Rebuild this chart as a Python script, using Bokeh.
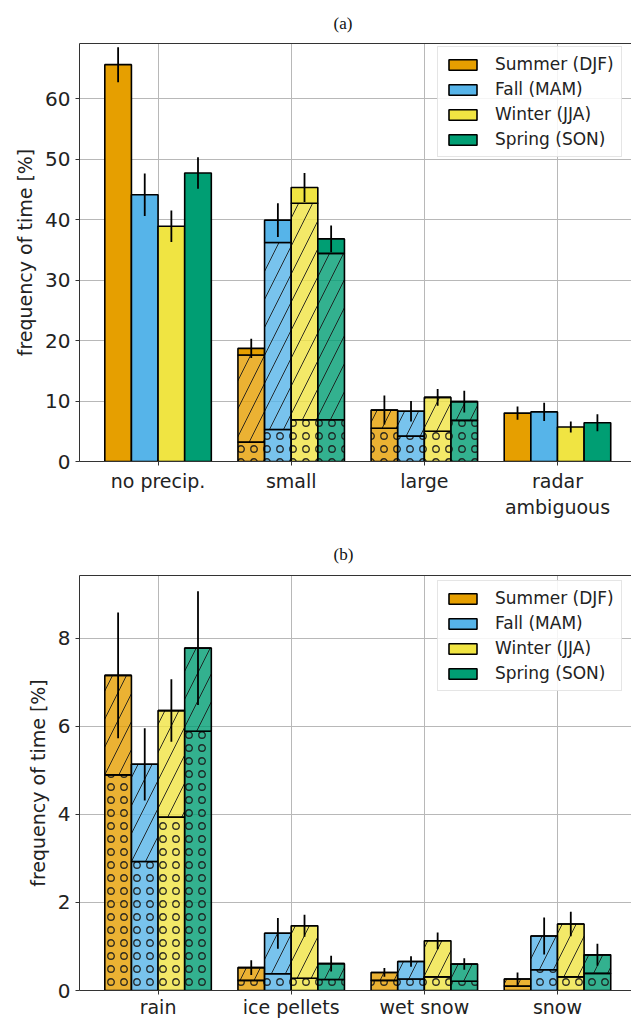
from bokeh.plotting import figure
from bokeh.layouts import column
from bokeh.models import Range1d, FixedTicker, LinearAxis, Legend, LegendItem
from bokeh.embed import file_html
from bokeh.resources import INLINE

seasons = ["Summer (DJF)", "Fall (MAM)", "Winter (JJA)", "Spring (SON)"]
colors = ["#E69F00", "#56B4E9", "#F0E442", "#009E73"]

# ---- panel (a) ----
categories_a = ["no precip.", "small", "large", "radar\nambiguous"]
total_a = {
    "Summer (DJF)": [65.6, 18.7, 8.5, 8.0],
    "Fall (MAM)": [44.1, 39.9, 8.3, 8.2],
    "Winter (JJA)": [38.9, 45.3, 10.6, 5.7],
    "Spring (SON)": [47.7, 36.8, 9.9, 6.4],
}
dotted_a = {
    "Summer (DJF)": [0, 3.2, 5.5, 0],
    "Fall (MAM)": [0, 5.3, 4.2, 0],
    "Winter (JJA)": [0, 6.9, 5.0, 0],
    "Spring (SON)": [0, 6.9, 6.8, 0],
}
hatched_a = {
    "Summer (DJF)": [0, 14.4, 3.0, 0],
    "Fall (MAM)": [0, 30.9, 4.1, 0],
    "Winter (JJA)": [0, 35.8, 5.6, 0],
    "Spring (SON)": [0, 27.5, 3.1, 0],
}
err_a = {
    "Summer (DJF)": [2.9, 1.6, 2.4, 1.1],
    "Fall (MAM)": [3.5, 2.8, 1.7, 1.5],
    "Winter (JJA)": [2.6, 2.4, 1.4, 0.9],
    "Spring (SON)": [2.6, 2.2, 1.8, 1.4],
}
yticks_a = [0, 10, 20, 30, 40, 50, 60]

# ---- panel (b) ----
categories_b = ["rain", "ice pellets", "wet snow", "snow"]
total_b = {
    "Summer (DJF)": [7.16, 0.52, 0.41, 0.26],
    "Fall (MAM)": [5.14, 1.30, 0.66, 1.24],
    "Winter (JJA)": [6.36, 1.47, 1.13, 1.51],
    "Spring (SON)": [7.78, 0.61, 0.60, 0.81],
}
dotted_b = {
    "Summer (DJF)": [4.90, 0.23, 0.23, 0.10],
    "Fall (MAM)": [2.93, 0.38, 0.26, 0.47],
    "Winter (JJA)": [3.94, 0.28, 0.31, 0.31],
    "Spring (SON)": [5.89, 0.25, 0.21, 0.39],
}
hatched_b = {
    "Summer (DJF)": [2.26, 0.29, 0.18, 0.16],
    "Fall (MAM)": [2.21, 0.92, 0.40, 0.77],
    "Winter (JJA)": [2.42, 1.19, 0.82, 1.20],
    "Spring (SON)": [1.89, 0.36, 0.39, 0.42],
}
err_b = {
    "Summer (DJF)": [1.43, 0.17, 0.10, 0.15],
    "Fall (MAM)": [0.82, 0.35, 0.12, 0.42],
    "Winter (JJA)": [0.71, 0.25, 0.19, 0.28],
    "Spring (SON)": [1.29, 0.18, 0.13, 0.25],
}
yticks_b = [0, 2, 4, 6, 8]

FONT = "DejaVu Sans"
BAR_W = 0.2


def make_panel(title, cats, totals, dotted, hatched, errs, ymax, yticks,
               height, border_top, border_bottom, label_standoff, title_standoff):
    p = figure(width=631, height=height,
               x_range=Range1d(-0.59, 3.556), y_range=Range1d(0, ymax),
               output_backend="svg", toolbar_location=None,
               min_border_left=79, min_border_right=0,
               min_border_top=border_top, min_border_bottom=border_bottom)
    p.outline_line_color = None
    p.background_fill_color = "white"
    p.border_fill_color = "white"

    # title
    p.title.text = title
    p.title.align = "left"
    p.title.offset = 254
    p.title.standoff = title_standoff
    p.title.text_font = "Liberation Serif"
    p.title.text_font_size = "17px"
    p.title.text_font_style = "normal"
    p.title.text_color = "#111111"

    # grids
    p.xgrid.ticker = FixedTicker(ticks=list(range(len(cats))))
    p.ygrid.ticker = FixedTicker(ticks=yticks)
    for g in (p.xgrid, p.ygrid):
        g.grid_line_color = "#b8b8b8"
        g.grid_line_width = 1

    # axes
    p.xaxis.ticker = FixedTicker(ticks=list(range(len(cats))))
    p.xaxis.major_label_overrides = {i: c for i, c in enumerate(cats)}
    p.yaxis.ticker = FixedTicker(ticks=yticks)
    for ax in (p.xaxis[0], p.yaxis[0]):
        ax.major_label_text_font = FONT
        ax.major_label_text_font_size = "20px"
        ax.major_label_text_color = "#222222"
        ax.axis_line_color = "#333333"
        ax.major_tick_line_color = "#333333"
        ax.major_tick_in = 0
        ax.major_tick_out = 4
        ax.minor_tick_line_color = None
    p.xaxis.major_label_text_font_size = "19px"
    p.xaxis.major_label_standoff = label_standoff
    p.yaxis.major_label_standoff = 5
    p.yaxis.axis_label = "frequency of time [%]"
    p.yaxis.axis_label_text_font = FONT
    p.yaxis.axis_label_text_font_size = "19px"
    p.yaxis.axis_label_text_font_style = "normal"
    p.yaxis.axis_label_text_color = "#222222"
    p.yaxis.axis_label_standoff = 6

    top_axis = LinearAxis(ticker=FixedTicker(ticks=[]),
                          major_tick_line_color=None,
                          minor_tick_line_color=None,
                          major_label_text_font_size="0px",
                          axis_line_color="#333333")
    p.add_layout(top_axis, "above")

    items = []
    for j, s in enumerate(seasons):
        xs = [i + (j - 1.5) * BAR_W for i in range(len(cats))]
        d = dotted[s]
        h = hatched[s]
        t = totals[s]
        e = errs[s]
        htop = [a + b for a, b in zip(d, h)]

        # dotted (ring hatched) bottom part
        idx = [k for k in range(len(cats)) if d[k] > 0]
        if idx:
            p.vbar(x=[xs[k] for k in idx], bottom=0, top=[d[k] for k in idx],
                   width=BAR_W, fill_color=colors[j], fill_alpha=0.8,
                   line_color="black", line_width=1.6,
                   hatch_pattern="ring", hatch_scale=13, hatch_weight=1.3,
                   hatch_color="#1a1a1a", hatch_alpha=0.9)
        # diagonal hatched part
        idx = [k for k in range(len(cats)) if h[k] > 0]
        if idx:
            p.vbar(x=[xs[k] for k in idx], bottom=[d[k] for k in idx],
                   top=[htop[k] for k in idx],
                   width=BAR_W, fill_color=colors[j], fill_alpha=0.8,
                   line_color="black", line_width=1.6,
                   hatch_pattern="right_diagonal_line", hatch_scale=28,
                   hatch_weight=1, hatch_color="#1a1a1a", hatch_alpha=0.9)
        # solid remainder
        r = p.vbar(x=xs, bottom=htop, top=t, width=BAR_W,
                   fill_color=colors[j], fill_alpha=1.0,
                   line_color="black", line_width=1.6)
        items.append(LegendItem(label=s, renderers=[r]))

        # error bars
        p.segment(x0=xs, y0=[a - b for a, b in zip(t, e)],
                  x1=xs, y1=[a + b for a, b in zip(t, e)],
                  line_color="black", line_width=1.8)

    legend = Legend(items=items, location=(359, 0))
    legend.label_text_font = FONT
    legend.label_text_font_size = "17px"
    legend.label_text_color = "#222222"
    legend.glyph_width = 35
    legend.glyph_height = 13
    legend.label_height = 20
    legend.spacing = 5
    legend.padding = 7
    legend.margin = 0
    legend.label_standoff = 15
    legend.border_line_color = "#cccccc"
    legend.border_line_width = 1
    legend.background_fill_alpha = 0.85
    p.add_layout(legend, "center")
    return p, legend


pa, la = make_panel("(a)", categories_a, total_a, dotted_a, hatched_a, err_a,
                    69.1, yticks_a, 520, 43, 57, 4, 21)
la.location = (358, 304)
pb, lb = make_panel("(b)", categories_b, total_b, dotted_b, hatched_b, err_b,
                    9.43, yticks_b, 500, 55, 26, 1, 24)
lb.location = (358, 299)

layout = column(pa, pb, spacing=0)
open("out.html", "w").write(file_html(layout, INLINE))
